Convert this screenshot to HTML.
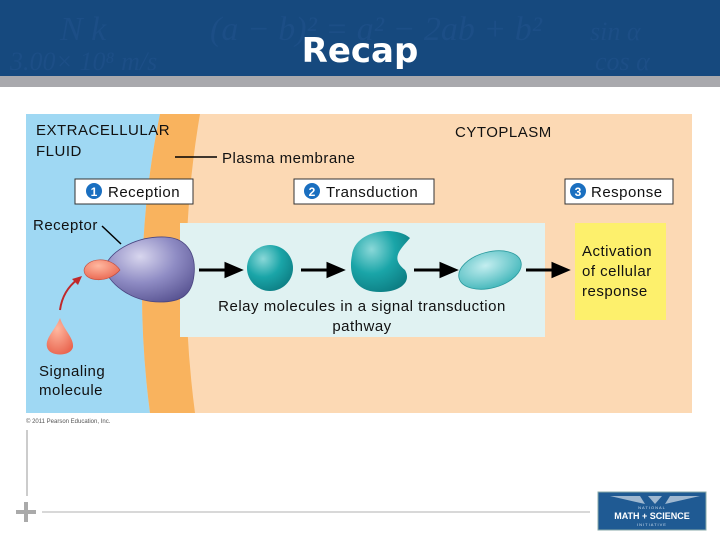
<!DOCTYPE html>
<html><head><meta charset="utf-8"><style>
body{margin:0;width:720px;height:540px;overflow:hidden;background:#fff;font-family:"Liberation Sans",sans-serif}
</style></head><body>
<svg width="720" height="540" viewBox="0 0 720 540" xmlns="http://www.w3.org/2000/svg" font-family="Liberation Sans, sans-serif">
<defs>
<radialGradient id="rec" cx="0.4" cy="0.3" r="0.8"><stop offset="0" stop-color="#d8d6ee"/><stop offset="0.5" stop-color="#8f8cc4"/><stop offset="1" stop-color="#55508f"/></radialGradient>
<radialGradient id="tl" cx="0.35" cy="0.3" r="0.8"><stop offset="0" stop-color="#8ad8d8"/><stop offset="0.5" stop-color="#1aa5a8"/><stop offset="1" stop-color="#0c7a80"/></radialGradient>
<radialGradient id="tl2" cx="0.45" cy="0.35" r="0.7"><stop offset="0" stop-color="#c4eef0"/><stop offset="1" stop-color="#3cb4b8"/></radialGradient>
<radialGradient id="red" cx="0.4" cy="0.3" r="0.8"><stop offset="0" stop-color="#ffb8a0"/><stop offset="1" stop-color="#e8604a"/></radialGradient>
</defs>
<rect x="0" y="0" width="720" height="76" fill="#16497e"/>
<g font-family="Liberation Serif, serif" font-style="italic" fill="#1c4e86">
<text x="60" y="40" font-size="34">N k</text>
<text x="210" y="40" font-size="34">(a − b)² = a² − 2ab + b²</text>
<text x="10" y="70" font-size="26">3.00× 10⁸ m/s</text>
<text x="590" y="40" font-size="26">sin α</text>
<text x="595" y="70" font-size="26">cos α</text>
</g>
<rect x="0" y="76" width="720" height="11" fill="#a9a9ad"/>
<text x="360" y="62" text-anchor="middle" font-family="DejaVu Sans, sans-serif" font-weight="bold" font-size="34" fill="#fff">Recap</text>

<rect x="26" y="114" width="666" height="299" fill="#fcd9b4"/>
<path d="M26 114 H160 Q130 260 150 413 H26 Z" fill="#9fd8f3"/>
<path d="M160 114 H200 Q175 260 195 413 H150 Q130 260 160 114 Z" fill="#f9b35e"/>
<rect x="180" y="223" width="365" height="114" fill="#e0f2f2"/>
<rect x="575" y="223" width="91" height="97" fill="#fdf06c"/>

<rect x="75" y="179" width="118" height="25" fill="#fff" stroke="#333"/>
<circle cx="94" cy="191" r="8" fill="#1a6fc0"/><text x="94" y="196" text-anchor="middle" font-size="12" fill="#fff" font-weight="bold">1</text>
<rect x="294" y="179" width="140" height="25" fill="#fff" stroke="#333"/>
<circle cx="312" cy="191" r="8" fill="#1a6fc0"/><text x="312" y="196" text-anchor="middle" font-size="12" fill="#fff" font-weight="bold">2</text>
<rect x="565" y="179" width="108" height="25" fill="#fff" stroke="#333"/>
<circle cx="578" cy="191" r="8" fill="#1a6fc0"/><text x="578" y="196" text-anchor="middle" font-size="12" fill="#fff" font-weight="bold">3</text>

<g font-size="15" fill="#111" letter-spacing="0.5">
<text x="36" y="135">EXTRACELLULAR</text>
<text x="36" y="156">FLUID</text>
<text x="455" y="137">CYTOPLASM</text>
<text x="222" y="163">Plasma membrane</text>
<text x="108" y="197">Reception</text>
<text x="326" y="197">Transduction</text>
<text x="591" y="197">Response</text>
<text x="33" y="230">Receptor</text>
<text x="39" y="376">Signaling</text>
<text x="39" y="395">molecule</text>
<text x="362" y="311" text-anchor="middle">Relay molecules in a signal transduction</text>
<text x="362" y="331" text-anchor="middle">pathway</text>
<text x="582" y="256">Activation</text>
<text x="582" y="276">of cellular</text>
<text x="582" y="296">response</text>
</g>
<line x1="175" y1="157" x2="217" y2="157" stroke="#000" stroke-width="1.5"/>

<line x1="102" y1="226" x2="121" y2="244" stroke="#000" stroke-width="1.5"/>
<path d="M104 268 C112 248 140 236 165 237 C190 238 196 258 194 275 C192 296 180 302 160 302 C135 302 112 288 104 268 Z" fill="url(#rec)" stroke="#4a4580" stroke-width="0.8"/>
<path d="M120 270 C110 255 86 258 84 270 C84 282 108 284 120 270 Z" fill="url(#red)" stroke="#c04a3a" stroke-width="0.6"/>
<path d="M60 310 C62 295 70 285 78 279" fill="none" stroke="#c0282a" stroke-width="2"/>
<path d="M82 276 L72 279 L78 285 Z" fill="#c0282a"/>
<path d="M60 318 C55 330 45 338 47 347 C49 357 71 357 73 347 C74 338 64 330 60 318 Z" fill="url(#red)"/>

<g stroke="#000" stroke-width="3" fill="#000">
<line x1="199" y1="270" x2="228" y2="270"/><path d="M240 270 L226 264 L226 276 Z"/>
<line x1="301" y1="270" x2="330" y2="270"/><path d="M342 270 L328 264 L328 276 Z"/>
<line x1="414" y1="270" x2="443" y2="270"/><path d="M455 270 L441 264 L441 276 Z"/>
<line x1="526" y1="270" x2="555" y2="270"/><path d="M567 270 L553 264 L553 276 Z"/>
</g>
<circle cx="270" cy="268" r="23" fill="url(#tl)"/>
<path d="M352 255 C355 230 395 225 410 238 C400 250 390 258 405 270 C412 282 400 292 380 292 C355 292 348 275 352 255 Z" fill="url(#tl)"/>
<ellipse cx="490" cy="270" rx="32" ry="18" transform="rotate(-15 490 270)" fill="url(#tl2)" stroke="#2a9a9e" stroke-width="0.8"/>

<text x="26" y="423" font-size="6" fill="#555">© 2011 Pearson Education, Inc.</text>
<line x1="27" y1="430" x2="27" y2="496" stroke="#bbb" stroke-width="1.5"/>
<line x1="42" y1="512" x2="590" y2="512" stroke="#ccc" stroke-width="1.5"/>
<path d="M16 512 H36 M26 502 V522" stroke="#aaa" stroke-width="4"/>

<rect x="598" y="492" width="108" height="38" fill="#1f5a93" stroke="#8aa" stroke-width="1"/>
<path d="M610 496 L640 496 L645 504 Z M700 496 L670 496 L665 504 Z M648 496 L662 496 L655 504 Z" fill="#9fb8d0"/>
<text x="652" y="509" text-anchor="middle" font-size="4" fill="#cde" letter-spacing="1">NATIONAL</text>
<text x="652" y="519" text-anchor="middle" font-size="9" font-weight="bold" fill="#fff">MATH + SCIENCE</text>
<text x="652" y="526" text-anchor="middle" font-size="4" fill="#cde" letter-spacing="1">INITIATIVE</text>
</svg>
</body></html>
